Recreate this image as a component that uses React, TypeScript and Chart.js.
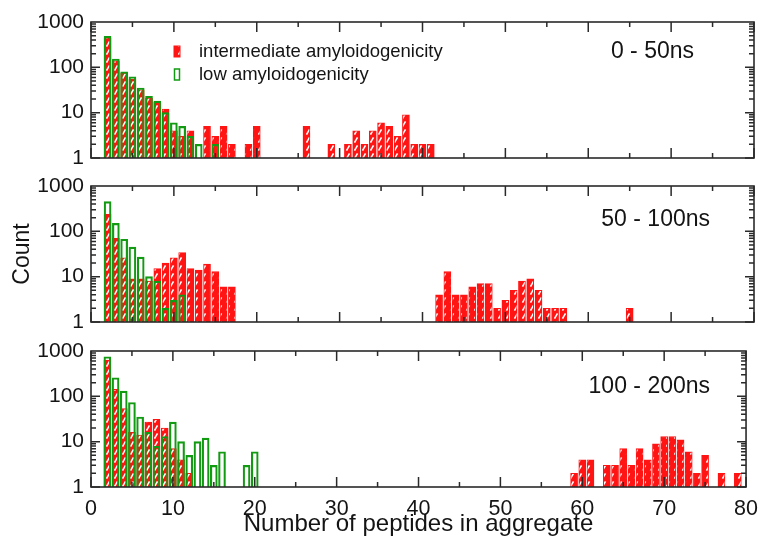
import React, { useEffect, useRef } from 'react';
import { Chart, registerables } from 'chart.js';
Chart.register(...registerables);

const FONT = "'Liberation Sans', Arial, Helvetica, sans-serif";
const RED = '#ff1414';
const GREEN = '#139a13';
const INK = '#141414';

const X_TICKS = [0, 10, 20, 30, 40, 50, 60, 70, 80];
const X_MINOR = [5, 15, 25, 35, 45, 55, 65, 75];
const Y_TICKS = [1, 10, 100, 1000];

const SERIES_NAMES = ['intermediate amyloidogenicity', 'low amyloidogenicity'];
const PANEL_LABELS = ['0 - 50ns', '50 - 100ns', '100 - 200ns'];

// Panel 1: 0 - 50 ns
const P1_INTER_X = [2, 3, 4, 5, 6, 7, 8, 9, 10, 11, 12, 14, 15, 16, 17, 19, 20, 26, 29, 31, 32, 33, 34, 35, 36, 37, 38, 39, 40, 41];
const P1_INTER_Y = [450, 140, 75, 55, 32, 21, 17, 12, 4, 3, 4, 5, 3, 5, 2, 2, 5, 5, 2, 2, 4, 2, 4, 6, 5, 3, 9, 2, 2, 2];
const P1_LOW_X = [2, 3, 4, 5, 6, 7, 8, 9, 10, 11, 12, 13, 15];
const P1_LOW_Y = [480, 153, 80, 62, 35, 23, 18, 10, 6, 5, 3, 2, 2];

// Panel 2: 50 - 100 ns
const P2_INTER_X = [2, 3, 4, 5, 6, 7, 8, 9, 10, 11, 12, 13, 14, 15, 16, 17, 42, 43, 44, 45, 46, 47, 48, 49, 50, 51, 52, 53, 54, 55, 56, 57, 65];
const P2_INTER_Y = [238, 70, 26, 9, 9, 8, 15, 20, 26, 34, 15, 14, 19, 13, 6, 6, 4, 13, 4, 4, 6, 7, 7, 2, 3, 5, 8, 9, 5, 2, 2, 2, 2];
const P2_LOW_X = [2, 3, 4, 5, 6, 7, 8, 9, 10, 11];
const P2_LOW_Y = [453, 150, 67, 45, 27, 10, 8, 2, 3, 4];

// Panel 3: 100 - 200 ns
const P3_INTER_X = [2, 3, 4, 5, 6, 7, 8, 9, 10, 11, 12, 59, 60, 61, 63, 64, 65, 66, 67, 68, 69, 70, 71, 72, 73, 74, 75, 77, 79];
const P3_INTER_Y = [630, 142, 54, 16, 14, 27, 31, 20, 7, 4, 2, 2, 4, 4, 3, 3, 7, 3, 7, 4, 9, 13, 13, 11, 6, 2, 5, 2, 2];
const P3_LOW_X = [2, 3, 4, 5, 6, 7, 8, 9, 10, 11, 12, 13, 14, 15, 16, 19, 20];
const P3_LOW_Y = [748, 257, 130, 73, 35, 16, 8, 13, 27, 10, 5, 10, 12, 3, 6, 3, 6];

const W = 767;
const H = 539;

function makeHatch(): CanvasPattern | string {
  const c = document.createElement('canvas');
  c.width = 8;
  c.height = 8;
  const g = c.getContext('2d');
  if (!g) return RED;
  g.fillStyle = RED;
  g.fillRect(0, 0, 8, 8);
  g.strokeStyle = '#ffffff';
  g.lineWidth = 1.6;
  g.beginPath();
  g.moveTo(2.5, 6.6);
  g.lineTo(5.5, 1.4);
  g.stroke();
  return g.createPattern(c, 'repeat') || RED;
}

const framePlugin = {
  id: 'frameTicks',
  afterDatasetsDraw(chart: any) {
    const { ctx, chartArea, scales } = chart;
    const { left, right, top, bottom } = chartArea;
    const x = scales.x;
    const y = scales.y;
    ctx.save();
    ctx.strokeStyle = '#2a2a2a';
    ctx.lineWidth = 1.5;
    ctx.beginPath();
    const seg = (x1: number, y1: number, x2: number, y2: number) => {
      ctx.moveTo(x1, y1);
      ctx.lineTo(x2, y2);
    };
    X_TICKS.forEach((v) => {
      const px = x.getPixelForValue(v);
      seg(px, bottom, px, bottom - 10);
      seg(px, top, px, top + 10);
    });
    X_MINOR.forEach((v) => {
      const px = x.getPixelForValue(v);
      seg(px, bottom, px, bottom - 5);
      seg(px, top, px, top + 5);
    });
    [1, 10, 100].forEach((d) => {
      for (let m = 1; m <= 9; m++) {
        const py = y.getPixelForValue(d * m);
        const len = m === 1 ? 9 : 5;
        seg(left, py, left + len, py);
        seg(right, py, right - len, py);
      }
    });
    ctx.stroke();
    ctx.lineWidth = 1.6;
    ctx.strokeRect(left, top, right - left, bottom - top);
    ctx.restore();
  },
};

function makeTextPlugin(panel: number, hatch: CanvasPattern | string) {
  return {
    id: 'panelText',
    afterDraw(chart: any) {
      const { ctx, chartArea } = chart;
      const { top, right } = chartArea;
      ctx.save();
      ctx.fillStyle = INK;
      ctx.textBaseline = 'alphabetic';
      ctx.textAlign = 'right';
      ctx.font = `23px ${FONT}`;
      const offs = [
        [60, 36],
        [44, 40],
        [36, 42],
      ][panel];
      ctx.fillText(PANEL_LABELS[panel], right - offs[0], top + offs[1]);
      if (panel === 0) {
        ctx.textAlign = 'left';
        ctx.font = `18.5px ${FONT}`;
        const sx = 174;
        const tx = 199;
        const b1 = top + 35;
        const b2 = top + 58;
        ctx.fillStyle = hatch;
        ctx.fillRect(sx, b1 - 11, 6, 11);
        ctx.strokeStyle = RED;
        ctx.lineWidth = 1;
        ctx.strokeRect(sx, b1 - 11, 6, 11);
        ctx.strokeStyle = GREEN;
        ctx.lineWidth = 1.5;
        ctx.strokeRect(sx + 0.5, b2 - 11, 5, 11);
        ctx.fillStyle = INK;
        ctx.fillText(SERIES_NAMES[0], tx, b1);
        ctx.fillText(SERIES_NAMES[1], tx, b2);
      }
      ctx.restore();
    },
  };
}

const PANELS = [
  { ix: P1_INTER_X, iy: P1_INTER_Y, lx: P1_LOW_X, ly: P1_LOW_Y, top: 22, bottom: 158 },
  { ix: P2_INTER_X, iy: P2_INTER_Y, lx: P2_LOW_X, ly: P2_LOW_Y, top: 186, bottom: 322 },
  { ix: P3_INTER_X, iy: P3_INTER_Y, lx: P3_LOW_X, ly: P3_LOW_Y, top: 351, bottom: 487 },
];

export default function App() {
  const r0 = useRef<HTMLCanvasElement>(null);
  const r1 = useRef<HTMLCanvasElement>(null);
  const r2 = useRef<HTMLCanvasElement>(null);

  useEffect(() => {
    document.body.style.margin = '0';
    Chart.defaults.font.family = FONT;
    Chart.defaults.color = INK;
    const hatch = makeHatch();
    const refs = [r0, r1, r2];
    const charts = PANELS.map((p, i) => {
      const last = i === 2;
      const canvas = refs[i].current as HTMLCanvasElement;
      return new Chart(canvas, {
        type: 'bar',
        data: {
          datasets: [
            {
              label: SERIES_NAMES[0],
              data: p.ix.map((x, k) => ({ x, y: p.iy[k] })),
              backgroundColor: hatch as any,
              borderColor: RED,
              borderWidth: 1,
              barThickness: 7,
              grouped: false,
              order: 2,
            } as any,
            {
              label: SERIES_NAMES[1],
              data: p.lx.map((x, k) => ({ x, y: p.ly[k] })),
              backgroundColor: 'rgba(0,0,0,0)',
              borderColor: GREEN,
              borderWidth: 1.5,
              barThickness: 7,
              grouped: false,
              order: 1,
            } as any,
          ],
        },
        options: {
          responsive: false,
          animation: false,
          devicePixelRatio: 1,
          layout: {
            padding: { left: 0, right: 13, top: p.top, bottom: last ? 0 : H - p.bottom },
          },
          plugins: {
            legend: { display: false },
            tooltip: { enabled: false },
          },
          scales: {
            x: {
              type: 'linear',
              min: 0,
              max: 80,
              offset: false,
              grid: { display: false, drawTicks: false },
              border: { display: false },
              ticks: {
                display: last,
                stepSize: 10,
                padding: 9,
                autoSkip: false,
                font: { size: 21.5 },
                color: INK,
                maxRotation: 0,
              },
              title: {
                display: last,
                text: 'Number of peptides in aggregate',
                font: { size: 24 },
                color: INK,
                padding: { top: 0, bottom: 0 },
              },
              afterFit: (s: any) => {
                s.height = last ? H - p.bottom : 0;
              },
            },
            y: {
              type: 'logarithmic',
              min: 1,
              max: 1000,
              grid: { display: false, drawTicks: false },
              border: { display: false },
              ticks: {
                autoSkip: false,
                padding: 7,
                font: { size: 21 },
                color: INK,
                callback: (v: any) => (Y_TICKS.includes(Number(v)) ? String(v) : ''),
              },
              title: {
                display: i === 1,
                text: 'Count',
                font: { size: 23 },
                color: INK,
                padding: { top: 9, bottom: 0 },
              },
              afterFit: (s: any) => {
                s.width = 91;
              },
            },
          },
        } as any,
        plugins: [framePlugin, makeTextPlugin(i, hatch)],
      });
    });
    return () => charts.forEach((c) => c.destroy());
  }, []);

  const style: React.CSSProperties = { position: 'absolute', left: 0, top: 0 };
  return (
    <div style={{ position: 'relative', width: W, height: H, background: '#fff' }}>
      <canvas ref={r0} width={W} height={H} style={style} />
      <canvas ref={r1} width={W} height={H} style={style} />
      <canvas ref={r2} width={W} height={H} style={style} />
    </div>
  );
}
